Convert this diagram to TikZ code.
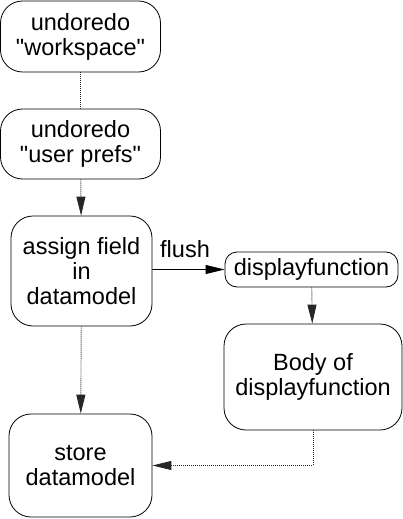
\documentclass[tikz,border=0pt]{standalone}
\usepackage{fontspec}
\setmainfont{Liberation Sans}
\usetikzlibrary{arrows.meta}
\begin{document}
\begin{tikzpicture}[x=1pt,y=-1pt,
  txt/.style={font=\fontsize{23.5}{25}\selectfont},
  box/.style={draw,line width=0.8pt,rounded corners=22pt,align=center,inner sep=0pt,txt},
  dots/.style={draw,line width=0.9pt,dash pattern=on 1pt off 1pt,black!85},
  tip/.style={-{Triangle[length=19pt,width=9pt]}},
]
\useasboundingbox (0,0) rectangle (403,519);
\node[box,minimum width=160pt,minimum height=71pt] (ws) at (80.5,36.5) {undoredo\\\textquotedbl workspace\textquotedbl};
\node[box,minimum width=160pt,minimum height=70pt] (up) at (80.5,144) {undoredo\\\textquotedbl user prefs\textquotedbl};
\node[box,minimum width=141pt,minimum height=110pt] (as) at (81.5,271) {assign field\\in\\datamodel};
\node[box,rounded corners=12pt,minimum width=173pt,minimum height=35pt] (df) at (311.5,269.5) {displayfunction};
\node[box,minimum width=178pt,minimum height=106pt] (bd) at (313,377) {Body of\\displayfunction};
\node[box,minimum width=143pt,minimum height=103pt] (st) at (80.5,465.5) {store\\datamodel};
\draw[dots] (ws) -- (up);
\draw[dots,tip] (up) -- (as);
\draw[line width=0.8pt,tip] (as.east |- df.west) -- (df.west);
\node[txt,anchor=base west,inner sep=0pt] (fl) at (160,257) {flush};
\draw[dots,tip] (df) -- (bd);
\draw[dots,tip] (as) -- (st);
\draw[dots,tip] (bd.south) |- (st.east);
\end{tikzpicture}
\end{document}
